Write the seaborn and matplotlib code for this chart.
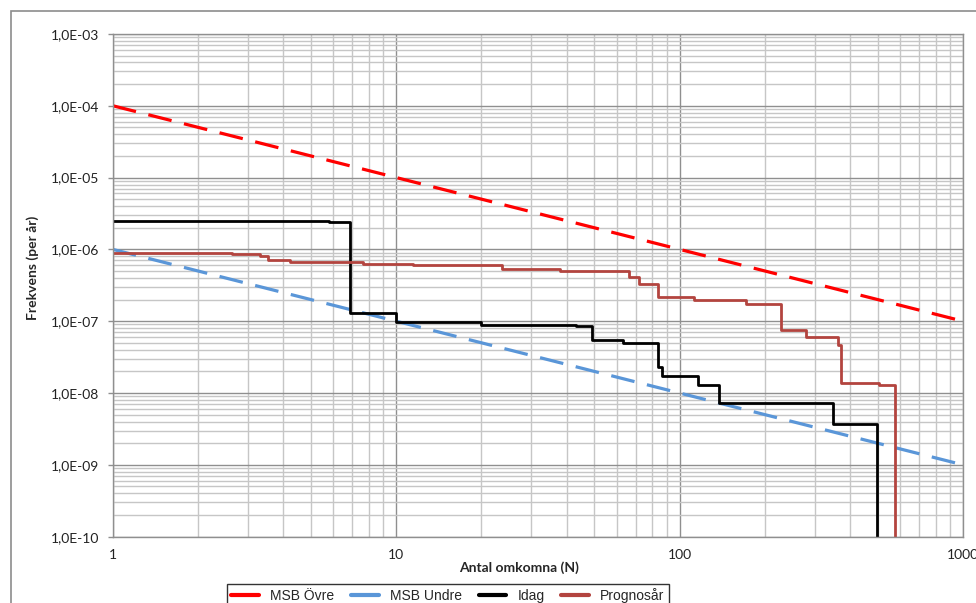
import numpy as np
import pandas as pd
import seaborn as sns
import matplotlib.pyplot as plt
from matplotlib.lines import Line2D
from matplotlib.patches import Rectangle
from matplotlib.ticker import FuncFormatter, LogLocator, FixedLocator

# Kriterielinjer (MSB)
msb_x = [1, 1000]
msb_ovre = [1e-4, 1e-7]
msb_undre = [1e-6, 1e-9]

# F/N-kurva idag (trappsteg, y gäller fram till nästa x)
idag_x = [1, 5.8, 6.9, 10, 20, 43, 49, 63, 84, 87, 116, 138, 347, 496]
idag_y = [2.5e-6, 2.4e-6, 1.3e-7, 9.8e-8, 8.9e-8, 8.6e-8, 5.4e-8, 5.0e-8,
          2.3e-8, 1.7e-8, 1.3e-8, 7.3e-9, 3.7e-9, 1e-11]

# F/N-kurva prognosår
prog_x = [1, 2.63, 3.31, 3.54, 4.22, 7.66, 11.5, 23.6, 37.7, 66.5, 72.1,
          84.2, 112, 172, 228, 279, 361, 371, 507, 576]
prog_y = [9.0e-7, 8.7e-7, 8.0e-7, 7.0e-7, 6.7e-7, 6.3e-7, 6.0e-7, 5.4e-7,
          5.0e-7, 4.1e-7, 3.3e-7, 2.2e-7, 1.95e-7, 1.75e-7, 7.5e-8, 6.0e-8,
          4.6e-8, 1.4e-8, 1.3e-8, 1e-11]

x_ticks = [1, 10, 100, 1000]
serier = ["MSB Övre", "MSB Undre", "Idag", "Prognosår"]
farger = ["#ff0000", "#5a96d8", "#000000", "#b3443f"]

sns.set_theme(style="white")
plt.rcParams['font.family'] = ['Lato', 'DejaVu Sans']

fig = plt.figure(figsize=(9.76, 6.03), dpi=100)
ax = fig.add_axes([0.1155, 0.110, 0.8712, 0.8338])

# ram runt diagrammet
fig.patches.append(Rectangle((0.0113, -0.2), 1.2, 0.9818 + 0.2, transform=fig.transFigure,
                             fill=False, edgecolor="#8c8c8c", linewidth=1.2, zorder=0))

sns.lineplot(x=msb_x, y=msb_ovre, ax=ax, color=farger[0], linewidth=2.3,
             linestyle=(0, (7.5, 4)), estimator=None, sort=False)
sns.lineplot(x=msb_x, y=msb_undre, ax=ax, color=farger[1], linewidth=2.3,
             linestyle=(0, (7.5, 4)), estimator=None, sort=False)
sns.lineplot(x=idag_x, y=idag_y, ax=ax, color=farger[2], linewidth=2.0,
             drawstyle="steps-post", estimator=None, sort=False)
sns.lineplot(x=prog_x, y=prog_y, ax=ax, color=farger[3], linewidth=2.0,
             drawstyle="steps-post", estimator=None, sort=False)

ax.set_xscale("log")
ax.set_yscale("log")
ax.set_xlim(1, 1000)
ax.set_ylim(1e-10, 1e-3)

ax.xaxis.set_major_locator(FixedLocator(x_ticks))
ax.xaxis.set_major_formatter(FuncFormatter(lambda v, p: f"{int(round(v))}"))
ax.xaxis.set_minor_locator(LogLocator(base=10, subs=np.arange(2, 10)))
ax.yaxis.set_major_locator(LogLocator(base=10, numticks=20))
ax.yaxis.set_major_formatter(FuncFormatter(lambda v, p: f"{v:.1E}".replace(".", ",")))
ax.yaxis.set_minor_locator(LogLocator(base=10, subs=np.arange(2, 10), numticks=20))
ax.xaxis.set_minor_formatter(FuncFormatter(lambda v, p: ""))
ax.yaxis.set_minor_formatter(FuncFormatter(lambda v, p: ""))

ax.grid(True, which="major", color="#8f8f8f", linewidth=1.0)
ax.grid(True, which="minor", color="#c6c6c6", linewidth=1.0)
ax.set_axisbelow(True)
for s in ax.spines.values():
    s.set_color("#8f8f8f")
    s.set_linewidth(1.0)

ax.tick_params(axis="y", which="major", length=3.6, width=1, color="#8f8f8f",
               left=True, pad=6, labelsize=10, labelcolor="#222222")
ax.tick_params(axis="y", which="minor", length=0)
ax.tick_params(axis="x", which="both", length=0, pad=9, labelsize=10, labelcolor="#222222")

ax.set_xlabel("Antal omkomna (N)", fontsize=10, fontweight="bold")
ax.set_ylabel("Frekvens (per år)", fontsize=10, fontweight="bold")
ax.xaxis.set_label_coords(0.478, -0.0615)
ax.yaxis.set_label_coords(-0.094, 0.535)
ax.xaxis.label.set_va("center")
ax.yaxis.label.set_va("center")

handles = [Line2D([0], [0], color=c, linewidth=3) for c in farger]
leg = fig.legend(handles, serier, loc="upper center", bbox_to_anchor=(0.459, 0.043),
                 ncol=4, frameon=True, fancybox=False, handlelength=2.0,
                 handletextpad=0.8, columnspacing=1.2, borderpad=0.3,
                 prop={"family": ["Liberation Sans", "DejaVu Sans"], "size": 10})
leg.get_frame().set_edgecolor("#000000")
leg.get_frame().set_linewidth(1.0)

fig.savefig("out.png", dpi=100)
